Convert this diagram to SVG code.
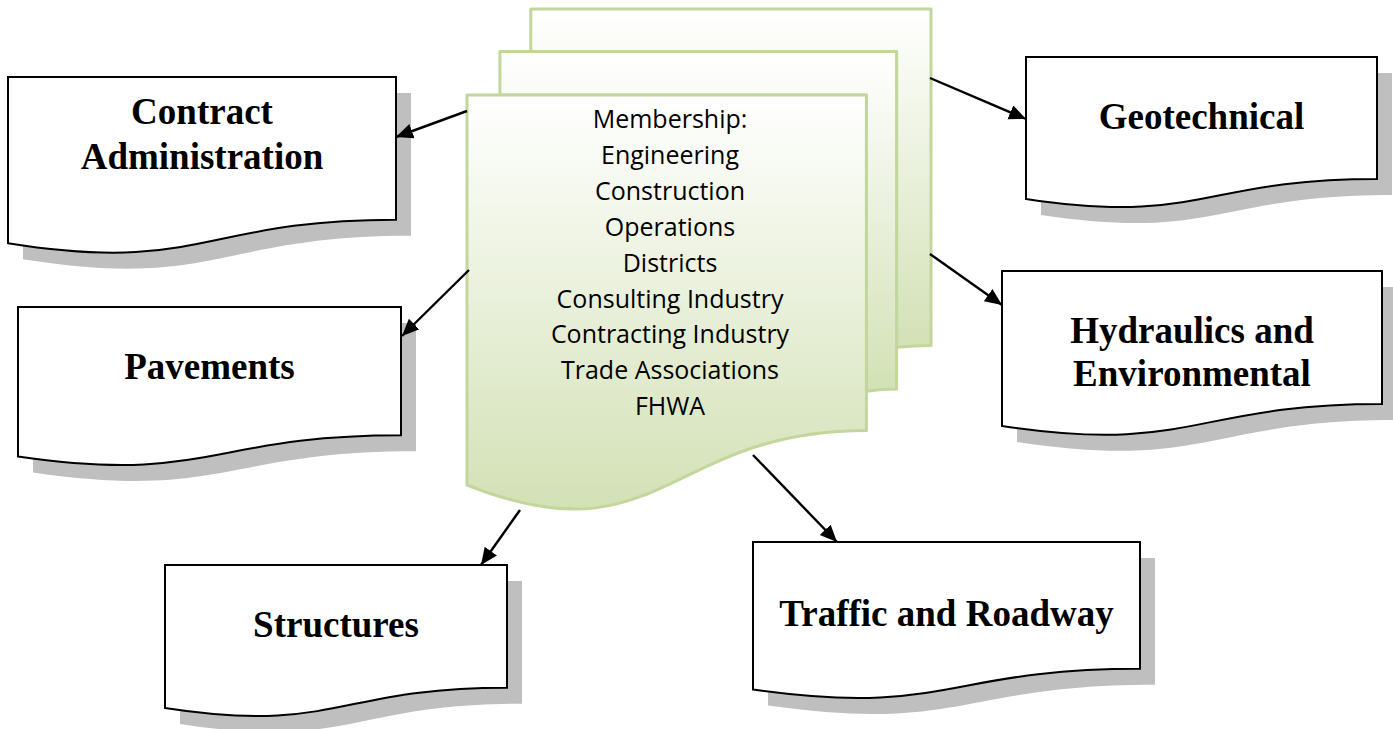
<svg xmlns="http://www.w3.org/2000/svg" width="1393" height="729" viewBox="0 0 1393 729">
<style>
.doc{fill:#ffffff;stroke:#000000;stroke-width:2;}
.shadow{fill:#bfbfbf;stroke:none;}
.lbl{font-family:"Liberation Serif","Times New Roman",serif;font-weight:bold;font-size:37px;fill:#000000;text-anchor:middle;}
.mem{font-family:"Open Sans","Noto Sans",sans-serif;font-size:25px;fill:#000000;text-anchor:middle;}
.page{fill:url(#pg);stroke:#c3d69b;stroke-width:3;stroke-linejoin:round;}
.conn{stroke:#000000;stroke-width:2.4;fill:none;marker-end:url(#arr);}
</style>
<defs>
<linearGradient id="pg" x1="0" y1="0" x2="0" y2="1">
<stop offset="0" stop-color="#ffffff"/>
<stop offset="1" stop-color="#d3e1b6"/>
</linearGradient>
<marker id="arr" markerUnits="userSpaceOnUse" markerWidth="18" markerHeight="16" refX="17" refY="7.5" orient="auto">
<path d="M0,0 L17,7.5 L0,15 Z" fill="#000000"/>
</marker>
</defs>
<rect width="1393" height="729" fill="#ffffff"/>

<g id="membership">
<path class="page" d="M530.8,51.4 L530.8,9 L931,9 L931,345.5 C913.8,345.5 896.6,347.2 896.6,347.2 L896.6,51.4 Z"/>
<path class="page" d="M499.9,94.9 L499.9,51.4 L896.6,51.4 L896.6,389 C881.5,389 866.4,391.3 866.4,391.3 L866.4,94.9 Z"/>
<path class="page" d="M467,485 C660,562 666.7,430.4 866.4,430.4 L866.4,94.9 L467,94.9 Z"/>
<text class="mem" x="670" y="128.3">Membership:</text>
<text class="mem" x="670" y="164.1">Engineering</text>
<text class="mem" x="670" y="200">Construction</text>
<text class="mem" x="670" y="235.8">Operations</text>
<text class="mem" x="670" y="271.7">Districts</text>
<text class="mem" x="670" y="307.5">Consulting Industry</text>
<text class="mem" x="670" y="343.3">Contracting Industry</text>
<text class="mem" x="670" y="379.2">Trade Associations</text>
<text class="mem" x="670" y="415">FHWA</text>
</g>

<g id="contract-administration">
<path class="shadow" transform="translate(15,16)" d="M8,77 H396 V219.7 C202,219.7 202,274.1 8,243.2 Z"/>
<path class="doc" d="M8,77 H396 V219.7 C202,219.7 202,274.1 8,243.2 Z"/>
<text class="lbl" x="202" y="124">Contract</text>
<text class="lbl" x="202" y="169">Administration</text>
</g>

<g id="geotechnical">
<path class="shadow" transform="translate(15,16)" d="M1026,57 H1377 V178.9 C1201.5,178.9 1201.5,225.3 1026,199 Z"/>
<path class="doc" d="M1026,57 H1377 V178.9 C1201.5,178.9 1201.5,225.3 1026,199 Z"/>
<text class="lbl" x="1201.5" y="129">Geotechnical</text>
</g>

<g id="pavements">
<path class="shadow" transform="translate(15,16)" d="M18,307 H401 V435.3 C209.5,435.3 209.5,484.2 18,456.4 Z"/>
<path class="doc" d="M18,307 H401 V435.3 C209.5,435.3 209.5,484.2 18,456.4 Z"/>
<text class="lbl" x="209.5" y="379">Pavements</text>
</g>

<g id="hydraulics-environmental">
<path class="shadow" transform="translate(15,16)" d="M1002,271 H1382 V404.1 C1192,404.1 1192,454.8 1002,426 Z"/>
<path class="doc" d="M1002,271 H1382 V404.1 C1192,404.1 1192,454.8 1002,426 Z"/>
<text class="lbl" x="1192" y="343">Hydraulics and</text>
<text class="lbl" x="1192" y="386">Environmental</text>
</g>

<g id="structures">
<path class="shadow" transform="translate(15,16)" d="M165,565 H507 V687.7 C336,687.7 336,734.4 165,707.9 Z"/>
<path class="doc" d="M165,565 H507 V687.7 C336,687.7 336,734.4 165,707.9 Z"/>
<text class="lbl" x="336" y="637">Structures</text>
</g>

<g id="traffic-roadway">
<path class="shadow" transform="translate(15,16)" d="M753,542 H1140 V668.7 C946.5,668.7 946.5,717 753,689.6 Z"/>
<path class="doc" d="M753,542 H1140 V668.7 C946.5,668.7 946.5,717 753,689.6 Z"/>
<text class="lbl" x="946.5" y="626">Traffic and Roadway</text>
</g>

<g id="connectors">
<line class="conn" x1="467" y1="111" x2="396" y2="137"/>
<line class="conn" x1="469" y1="270" x2="402" y2="336"/>
<line class="conn" x1="520" y1="510" x2="481" y2="565"/>
<line class="conn" x1="753" y1="455" x2="837" y2="542"/>
<line class="conn" x1="930" y1="78" x2="1026" y2="119"/>
<line class="conn" x1="930" y1="254" x2="1002" y2="305"/>
</g>
</svg>
